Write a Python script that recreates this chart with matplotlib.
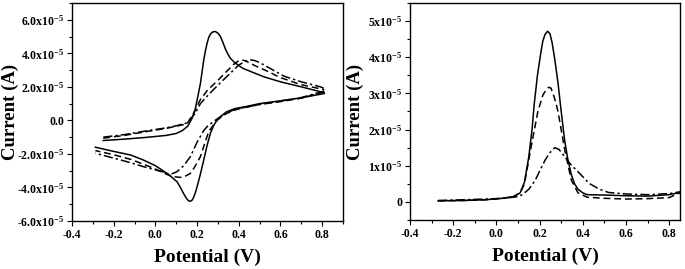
import numpy as np
import matplotlib
matplotlib.use('Agg')
import matplotlib.pyplot as plt
from matplotlib.ticker import MultipleLocator, FixedLocator, FixedFormatter

plt.rcParams['font.family'] = ['Liberation Serif', 'DejaVu Serif']
plt.rcParams['font.weight'] = 'bold'
plt.rcParams['mathtext.default'] = 'regular'

SCALE = 1e-5

# ---- cyclic voltammetry (left), currents in units of 1e-5 A ----
cv_solid_fwd_x = [-0.25, -0.15, -0.05, 0.05, 0.10, 0.13, 0.155, 0.175, 0.19, 0.20, 0.208, 0.216, 0.224,
                  0.232, 0.24, 0.248, 0.256, 0.264, 0.276, 0.288, 0.30, 0.312, 0.324, 0.336, 0.348,
                  0.36, 0.38, 0.42, 0.46, 0.52, 0.60, 0.70, 0.81]
cv_solid_fwd_y = [-1.2, -1.12, -1.02, -0.9, -0.78, -0.6, -0.35, 0.1, 0.6, 1.2, 1.7, 2.2, 2.9,
                  3.6, 4.15, 4.6, 4.95, 5.15, 5.28, 5.3, 5.2, 5.0, 4.65, 4.25, 3.95,
                  3.7, 3.45, 3.1, 2.9, 2.6, 2.3, 2.0, 1.65]
cv_solid_rev_x = [0.81, 0.70, 0.584, 0.50, 0.44, 0.38, 0.34, 0.32, 0.296, 0.28, 0.264, 0.248, 0.232,
                  0.216, 0.20, 0.192, 0.184, 0.176, 0.168, 0.16, 0.152, 0.144, 0.136, 0.12, 0.104,
                  0.08, 0.06, 0.0, -0.06, -0.12, -0.2, -0.288]
cv_solid_rev_y = [1.6, 1.35, 1.14, 1.0, 0.84, 0.7, 0.5, 0.3, 0.04, -0.3, -0.76, -1.5, -2.36,
                  -3.2, -3.96, -4.3, -4.58, -4.76, -4.82, -4.8, -4.7, -4.55, -4.38, -4.0, -3.66,
                  -3.4, -3.2, -2.7, -2.35, -2.06, -1.85, -1.6]

cv_dash_fwd_x = [-0.25, -0.15, -0.04, 0.05, 0.10, 0.152, 0.18, 0.216, 0.25, 0.296, 0.34, 0.376,
                 0.395, 0.408, 0.425, 0.44, 0.48, 0.536, 0.60, 0.696, 0.792, 0.81]
cv_dash_fwd_y = [-1.06, -0.9, -0.66, -0.48, -0.35, -0.2, 0.35, 1.24, 1.8, 2.34, 2.9, 3.34,
                 3.52, 3.6, 3.58, 3.5, 3.25, 2.94, 2.55, 2.14, 1.88, 1.82]
cv_dash_rev_x = [0.81, 0.70, 0.60, 0.50, 0.44, 0.38, 0.34, 0.30, 0.28, 0.256, 0.236, 0.216,
                 0.19, 0.168, 0.14, 0.12, 0.09, 0.06, 0.0, -0.06, -0.12, -0.2, -0.288]
cv_dash_rev_y = [1.7, 1.32, 1.12, 0.95, 0.8, 0.62, 0.4, 0.05, -0.25, -0.66, -1.4, -2.16,
                 -2.75, -3.16, -3.35, -3.4, -3.36, -3.25, -2.9, -2.6, -2.32, -2.05, -1.8]

cv_dd_fwd_x = [-0.25, -0.15, -0.04, 0.05, 0.10, 0.152, 0.19, 0.216, 0.26, 0.30, 0.35, 0.40,
               0.43, 0.45, 0.464, 0.48, 0.50, 0.55, 0.616, 0.70, 0.792, 0.81]
cv_dd_fwd_y = [-1.0, -0.85, -0.62, -0.45, -0.32, -0.15, 0.4, 1.0, 1.6, 2.1, 2.7, 3.3,
               3.52, 3.6, 3.6, 3.55, 3.45, 3.1, 2.64, 2.3, 2.0, 1.9]
cv_dd_rev_x = [0.81, 0.70, 0.60, 0.50, 0.44, 0.38, 0.34, 0.30, 0.27, 0.25, 0.232, 0.20,
               0.168, 0.136, 0.104, 0.08, 0.064, 0.03, 0.0, -0.06, -0.12, -0.2, -0.288]
cv_dd_rev_y = [1.75, 1.36, 1.15, 0.95, 0.8, 0.64, 0.45, 0.12, -0.15, -0.35, -0.6, -1.3,
               -2.16, -2.7, -3.06, -3.18, -3.2, -3.05, -2.95, -2.75, -2.52, -2.25, -1.96]

# ---- differential pulse voltammetry (right), currents in units of 1e-5 A ----
dpv_solid_x = [-0.27, -0.15, -0.05, 0.03, 0.08, 0.11, 0.13, 0.15, 0.165, 0.175, 0.19, 0.205, 0.215,
               0.225, 0.237, 0.248, 0.258, 0.27, 0.285, 0.30, 0.316, 0.33, 0.347, 0.362, 0.378,
               0.40, 0.42, 0.5, 0.6, 0.7, 0.8, 0.85]
dpv_solid_y = [0.03, 0.04, 0.06, 0.1, 0.15, 0.25, 0.55, 1.25, 2.0, 2.7, 3.5, 4.1, 4.45,
               4.63, 4.72, 4.65, 4.4, 3.95, 3.3, 2.5, 1.7, 1.2, 0.75, 0.5, 0.35,
               0.25, 0.2, 0.19, 0.17, 0.16, 0.2, 0.26]
dpv_dash_x = [-0.27, -0.15, -0.05, 0.03, 0.08, 0.11, 0.13, 0.16, 0.192, 0.215, 0.23, 0.242,
              0.252, 0.262, 0.275, 0.285, 0.30, 0.316, 0.347, 0.378, 0.42, 0.5, 0.6, 0.7, 0.8, 0.85]
dpv_dash_y = [0.03, 0.04, 0.06, 0.1, 0.15, 0.25, 0.5, 1.5, 2.5, 2.95, 3.1, 3.17,
              3.15, 3.0, 2.75, 2.5, 2.0, 1.45, 0.6, 0.25, 0.13, 0.1, 0.08, 0.09, 0.12, 0.25]
dpv_dd_x = [-0.27, -0.15, -0.05, 0.03, 0.08, 0.10, 0.12, 0.15, 0.18, 0.20, 0.225, 0.246,
            0.27, 0.29, 0.31, 0.339, 0.385, 0.43, 0.477, 0.52, 0.6, 0.7, 0.8, 0.85]
dpv_dd_y = [0.04, 0.06, 0.08, 0.1, 0.13, 0.15, 0.2, 0.35, 0.6, 0.85, 1.15, 1.35,
            1.5, 1.45, 1.3, 1.07, 0.79, 0.51, 0.35, 0.26, 0.22, 0.2, 0.23, 0.28]

cv_yticks = [-6, -4, -2, 0, 2, 4, 6]
cv_yticklabels = ['-6.0x10$^{-5}$', '-4.0x10$^{-5}$', '-2.0x10$^{-5}$', '0.0',
                  '2.0x10$^{-5}$', '4.0x10$^{-5}$', '6.0x10$^{-5}$']
dpv_yticks = [0, 1, 2, 3, 4, 5]
dpv_yticklabels = ['0', '1x10$^{-5}$', '2x10$^{-5}$', '3x10$^{-5}$', '4x10$^{-5}$', '5x10$^{-5}$']

fig = plt.figure(figsize=(6.85, 2.69), dpi=100)
ax1 = fig.add_axes([72/685, 1-221/269, 271/685, 218/269])
ax2 = fig.add_axes([410/685, 1-220/269, 270/685, 217/269])

lw = 1.1
dash = (0, (4.5, 2.5))
dashdot = (0, (6, 2, 1.5, 2))

def arr(v):
    return np.array(v) * SCALE

ax1.plot(cv_solid_fwd_x, arr(cv_solid_fwd_y), color='black', lw=lw)
ax1.plot(cv_solid_rev_x, arr(cv_solid_rev_y), color='black', lw=lw)
ax1.plot(cv_dash_fwd_x, arr(cv_dash_fwd_y), color='black', lw=lw, ls=dash)
ax1.plot(cv_dash_rev_x, arr(cv_dash_rev_y), color='black', lw=lw, ls=dash)
ax1.plot(cv_dd_fwd_x, arr(cv_dd_fwd_y), color='black', lw=lw, ls=dashdot)
ax1.plot(cv_dd_rev_x, arr(cv_dd_rev_y), color='black', lw=lw, ls=dashdot)

ax2.plot(dpv_solid_x, arr(dpv_solid_y), color='black', lw=lw)
ax2.plot(dpv_dash_x, arr(dpv_dash_y), color='black', lw=lw, ls=dash)
ax2.plot(dpv_dd_x, arr(dpv_dd_y), color='black', lw=lw, ls=dashdot)

ax1.set_xlim(-0.4, 0.9)
ax1.set_ylim(-6e-5, 7e-5)
ax2.set_xlim(-0.4, 0.85)
ax2.set_ylim(-0.5e-5, 5.5e-5)

for ax, yt, yl, lx in [(ax1, cv_yticks, cv_yticklabels, -0.196), (ax2, dpv_yticks, dpv_yticklabels, -0.172)]:
    ax.xaxis.set_major_locator(MultipleLocator(0.2))
    ax.xaxis.set_minor_locator(MultipleLocator(0.1))
    ax.xaxis.set_major_formatter(matplotlib.ticker.FormatStrFormatter('%.1f'))
    ax.yaxis.set_major_locator(FixedLocator(np.array(yt) * SCALE))
    ax.yaxis.set_major_formatter(FixedFormatter(yl))
    ax.yaxis.set_minor_locator(MultipleLocator(SCALE if ax is ax1 else 0.5 * SCALE))
    ax.tick_params(which='major', direction='out', length=3.5, width=0.8, labelsize=8.5, pad=2)
    ax.tick_params(which='minor', direction='out', length=2, width=0.8)
    for lab in ax.get_xticklabels() + ax.get_yticklabels():
        lab.set_fontweight('bold')
    for s in ax.spines.values():
        s.set_linewidth(1.0)
    ax.set_xlabel('Potential (V)', fontsize=14, fontweight='bold', labelpad=6)
    ax.set_ylabel('Current (A)', fontsize=13.5, fontweight='bold')
    ax.yaxis.set_label_coords(lx, 0.5)

fig.savefig('out.png', dpi=100)
